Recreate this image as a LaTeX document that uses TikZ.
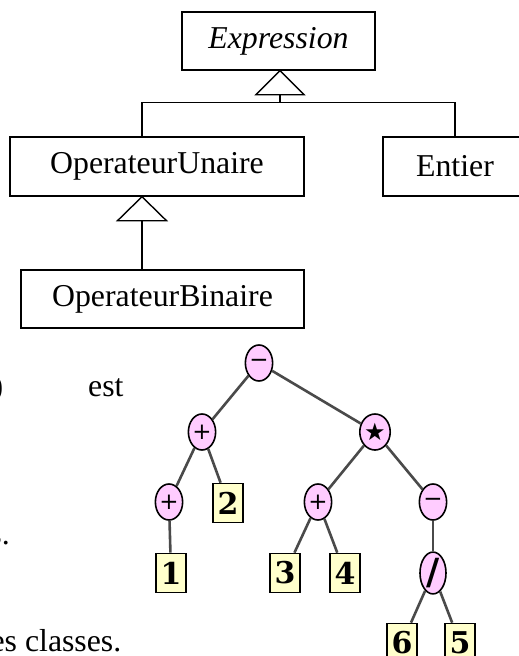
\documentclass[tikz,border=0pt]{standalone}
\usepackage{fontspec}
\setmainfont{Liberation Serif}
\newfontfamily\djv{DejaVu Sans}
\newfontfamily\djvserif{DejaVu Serif}
\usetikzlibrary{shapes.geometric,calc}
\definecolor{nodepink}{HTML}{FFCCFF}
\definecolor{leafyellow}{HTML}{FFFFCC}
\definecolor{edgegray}{HTML}{4A4A4A}
\begin{document}
\begin{tikzpicture}[x=1pt,y=-1pt,
  umlbox/.style={draw, line width=1.4pt, inner sep=0pt, font=\fontsize{31.8}{36}\selectfont},
  umlline/.style={line width=1.4pt},
  bodytext/.style={inner sep=0pt, font=\fontsize{31.8}{36}\selectfont},
  opnode/.style={ellipse, draw, line width=1.6pt, fill=nodepink, inner sep=0pt,
    minimum width=26pt, minimum height=36pt, font=\djv\fontsize{23}{24}\selectfont},
  leafnode/.style={rectangle, draw, line width=1.6pt, fill=leafyellow, inner sep=0pt,
    minimum width=30pt, minimum height=39pt, font=\djvserif\bfseries\fontsize{30}{32}\selectfont},
  treeedge/.style={draw=edgegray, line width=2.6pt}]
\useasboundingbox (0,0) rectangle (519,656);

% ---------- UML class diagram ----------
\node[umlbox, minimum width=193pt, minimum height=58pt] (expr) at (278.5,41) {\itshape Expression};
\node[umlbox, minimum width=294pt, minimum height=59pt] (unaire) at (157,166.5) {OperateurUnaire};
\node[umlbox, minimum width=144pt, minimum height=59pt] (entier) at (455,166.5) {Entier};
\node[umlbox, minimum width=283pt, minimum height=58pt] (binaire) at (162.5,299) {OperateurBinaire};

\coordinate (t1apex) at ($(expr.south)+(1.5,0)$);
\coordinate (t1base) at ($(t1apex)+(0,24)$);
\coordinate (joint) at ($(t1apex)+(0,32)$);
\coordinate (uconn) at ($(unaire.north)+(-15,0)$);
\draw[umlline] (t1apex) -- ++(-24,24) -- ++(48,0) -- cycle;
\draw[umlline] (t1base) -- (joint);
\draw[umlline] (uconn) |- (joint) -| (entier.north);

\coordinate (t2apex) at ($(unaire.south)+(-15,0)$);
\coordinate (t2base) at ($(t2apex)+(0,24)$);
\draw[umlline] (t2apex) -- ++(-24.5,24) -- ++(49,0) -- cycle;
\draw[umlline] (t2base) -- (t2base |- binaire.north);

% ---------- body text fragments ----------
\node[bodytext, anchor=base east] (paren) at (3.5,396) {)};
\node[bodytext, anchor=base west] (est) at (88,396) {est};
\node[bodytext, anchor=base east] (sdot) at (10,544) {s.};
\node[bodytext, anchor=base east] (classes) at (121.5,651) {es classes.};

% ---------- expression tree ----------
\node[opnode] (root) at (259,363) {−};
\node[opnode] (plusA) at (202,432) {+};
\node[opnode] (times) at (375,432) {\fontsize{24}{26}\selectfont ★};
\node[opnode] (plusB) at (169,502) {+};
\node[leafnode] (two) at (228,503) {2};
\node[opnode] (plusC) at (318,502) {+};
\node[opnode] (minusB) at (433,502) {−};
\node[leafnode] (one) at (171,573) {1};
\node[leafnode] (three) at (285,573) {3};
\node[leafnode] (four) at (345,573) {4};
\node[opnode] (div) at (433,573) {\bfseries\fontsize{36}{38}\selectfont /};
\node[leafnode] (six) at (402,643) {6};
\node[leafnode] (five) at (460,643) {5};

\draw[treeedge] (root) -- (plusA);
\draw[treeedge] (root) -- (times);
\draw[treeedge] (plusA) -- (plusB);
\draw[treeedge] (plusA) -- (two);
\draw[treeedge] (plusB) -- (one);
\draw[treeedge] (times) -- (plusC);
\draw[treeedge] (times) -- (minusB);
\draw[treeedge] (plusC) -- (three);
\draw[treeedge] (plusC) -- (four);
\draw[treeedge] (minusB) -- (div);
\draw[treeedge] (div) -- (six);
\draw[treeedge] (div) -- (five);
\end{tikzpicture}
\end{document}
